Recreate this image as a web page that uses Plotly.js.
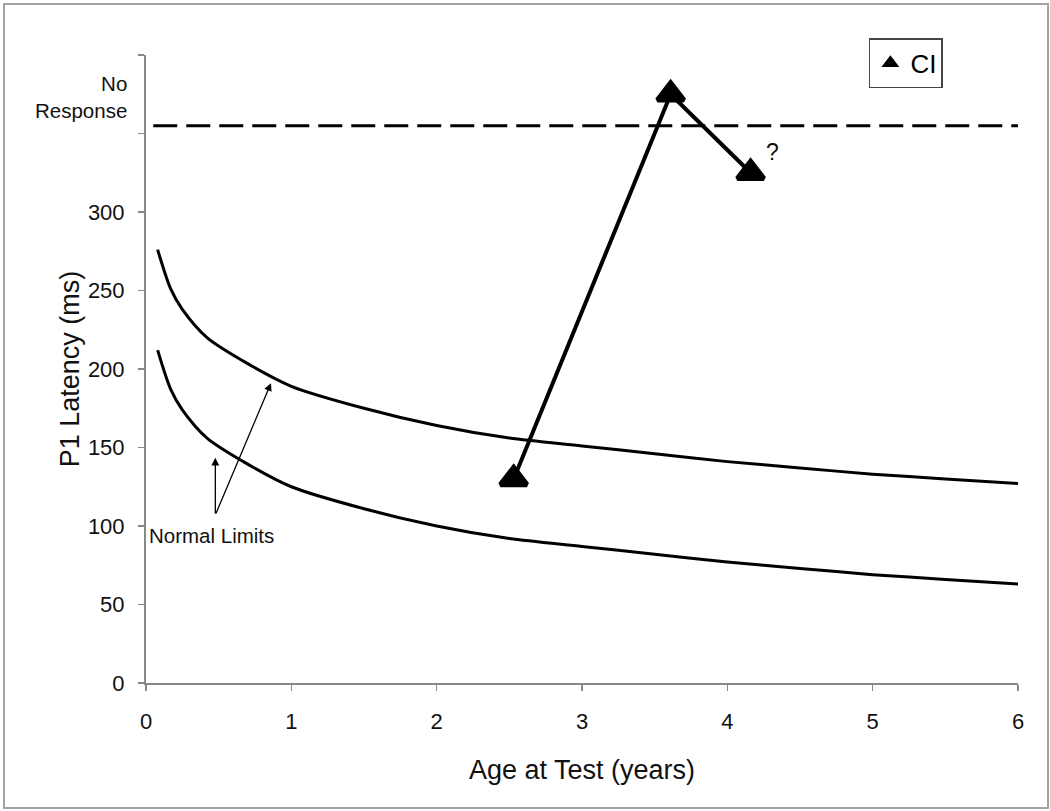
<!DOCTYPE html>
<html>
<head>
<meta charset="utf-8">
<script src="https://cdn.plot.ly/plotly-3.0.1.min.js"></script>
<style>
  html, body { margin: 0; padding: 0; background: #fff; }
  #wrap { position: relative; width: 1050px; height: 811px; }
  #chart { position: absolute; left: 0; top: 0; width: 1050px; height: 811px; }
  #frame { position: absolute; left: 3px; top: 3px; width: 1042px; height: 802px;
           border: 2px solid #a3a3a3; pointer-events: none; }
</style>
</head>
<body>
<div id="wrap">
  <div id="chart"></div>
  <div id="frame"></div>
</div>
<script>
// Normal limits curves (age in years, P1 latency in ms)
const normAge   = [0.08, 0.17, 0.25, 0.42, 0.67, 1.0, 1.5, 2.0, 2.5, 3.0, 3.5, 4.0, 4.5, 5.0, 5.5, 6.0];
const upperLim  = [276, 251, 238, 220, 205, 189, 175, 164, 156, 151, 146, 141, 137, 133, 130, 127];
const lowerLim  = [212, 187, 174, 156, 141, 125, 111, 100, 92, 87, 82, 77, 73, 69, 66, 63];

// CI patient
const ciAge     = [2.53, 3.61, 4.16];
const ciLatency = [130, 375, 325];

// "No Response" level
const noRespAge   = [0.05, 6.0];
const noRespLevel = [355, 355];

// Axis ticks
const yTickVals = [0, 50, 100, 150, 200, 250, 300, 350, 400];
const yTickText = ['0', '50', '100', '150', '200', '250', '300', '', ''];
const xTickVals = [0, 1, 2, 3, 4, 5, 6];

const FONT = 'Liberation Sans, Arial, Helvetica, sans-serif';
const INK = '#111';

const traces = [
  { x: normAge, y: upperLim, mode: 'lines', line: { color: '#000', width: 3, shape: 'spline', smoothing: 0.8 }, showlegend: false, hoverinfo: 'skip' },
  { x: normAge, y: lowerLim, mode: 'lines', line: { color: '#000', width: 3, shape: 'spline', smoothing: 0.8 }, showlegend: false, hoverinfo: 'skip' },
  { x: noRespAge, y: noRespLevel, mode: 'lines', line: { color: '#000', width: 3, dash: '24px,9px' }, showlegend: false, hoverinfo: 'skip' },
  { x: ciAge, y: ciLatency, mode: 'lines', line: { color: '#000', width: 4 }, showlegend: false, hoverinfo: 'skip' },
  { x: ciAge, y: ciLatency, mode: 'markers', name: 'CI',
    marker: { symbol: 'triangle-up', size: 23, color: '#000', line: { color: '#000', width: 5 } }, showlegend: true }
];

const layout = {
  width: 1050, height: 811,
  margin: { l: 146, r: 32, t: 55, b: 128 },
  paper_bgcolor: '#fff', plot_bgcolor: '#fff',
  font: { family: FONT, color: INK, size: 22 },
  showlegend: true,
  legend: {
    x: 0.829, y: 1.027, xanchor: 'left', yanchor: 'top',
    bgcolor: '#fff', bordercolor: '#444', borderwidth: 1.5,
    font: { family: FONT, size: 26, color: '#000' },
    itemsizing: 'constant'
  },
  xaxis: {
    range: [0, 6], tickvals: xTickVals, ticks: 'outside', ticklen: 6, tickwidth: 1.5, tickcolor: '#888',
    showline: true, linecolor: '#888', linewidth: 2, showgrid: false, zeroline: false,
    tickfont: { size: 22, color: INK }, ticklabelstandoff: 12,
    title: { text: 'Age at Test (years)', font: { size: 27, color: INK }, standoff: 27 },
    fixedrange: true
  },
  yaxis: {
    range: [0, 400], tickvals: yTickVals, ticktext: yTickText, ticks: 'outside', ticklen: 6, tickwidth: 1.5, tickcolor: '#888',
    showline: true, linecolor: '#888', linewidth: 2, showgrid: false, zeroline: false,
    tickfont: { size: 22, color: INK }, ticklabelstandoff: 9,
    title: { text: 'P1 Latency (ms)', font: { size: 27, color: INK }, standoff: 0 },
    fixedrange: true
  },
  annotations: [
    { text: 'No<br>Response', xref: 'paper', yref: 'y', x: -0.02, y: 373, xanchor: 'right', yanchor: 'middle',
      align: 'right', showarrow: false, font: { size: 20.5, color: INK } },
    { text: '?', xref: 'x', yref: 'y', x: 4.31, y: 338, showarrow: false, font: { size: 23, color: INK } },
    { text: 'Normal Limits', xref: 'x', yref: 'y', x: 0.01, y: 94, xanchor: 'left', yanchor: 'middle',
      showarrow: false, font: { size: 20.5, color: INK } },
    { text: '', xref: 'x', yref: 'y', x: 0.477, y: 143.5, axref: 'x', ayref: 'y', ax: 0.477, ay: 107,
      showarrow: true, arrowhead: 2, arrowsize: 1.2, arrowwidth: 1.3, arrowcolor: '#000' },
    { text: '', xref: 'x', yref: 'y', x: 0.86, y: 191, axref: 'x', ayref: 'y', ax: 0.477, ay: 107,
      showarrow: true, arrowhead: 2, arrowsize: 1.2, arrowwidth: 1.3, arrowcolor: '#000' }
  ]
};

Plotly.newPlot('chart', traces, layout, { staticPlot: true, displayModeBar: false });
</script>
</body>
</html>
